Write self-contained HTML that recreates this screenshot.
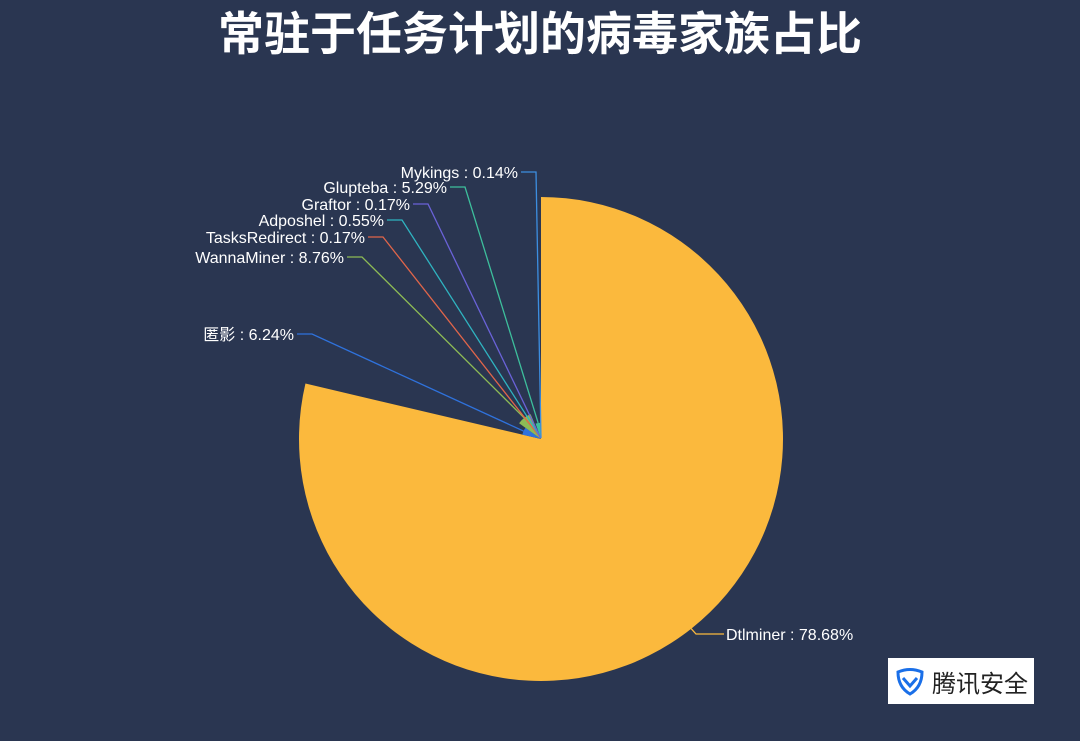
<!DOCTYPE html>
<html><head><meta charset="utf-8">
<style>
html,body{margin:0;padding:0;background:#2a3651;width:1080px;height:741px;overflow:hidden;font-family:"Liberation Sans","Noto Sans CJK SC",sans-serif}
#title{position:absolute;left:0;top:-2px;width:1080px;text-align:center;color:#fff;font-size:46px;font-weight:bold;font-family:"Liberation Sans","Noto Sans CJK SC",sans-serif}
#logo{position:absolute;left:888px;top:658px;width:146px;height:46px;background:#fff;display:flex;align-items:center}
#logo span{font-size:24px;color:#222;margin-left:6px;font-family:"Noto Sans CJK SC",sans-serif}
</style></head><body>
<div id="title">常驻于任务计划的病毒家族占比</div>
<svg id="chart" width="1080" height="741" style="position:absolute;left:0;top:0"></svg>
<div id="logo">
<svg width="32" height="32" viewBox="0 0 32 32" style="margin-left:6px"><path d="M4 7 Q16 2 28 7 Q28 22 16 29 Q4 22 4 7Z" fill="none" stroke="#1a6fe8" stroke-width="3"/><path d="M9 13 L16 21 L23 13" fill="none" stroke="#1a6fe8" stroke-width="3"/></svg>
<span>腾讯安全</span></div>
<script>
const names=["Dtlminer","匿影","WannaMiner","TasksRedirect","Adposhel","Graftor","Glupteba","Mykings"];
const values=[78.68,6.24,8.76,0.17,0.55,0.17,5.29,0.14];
const colors=["#fbb93d","#2f72dc","#8dbb55","#e0654a","#2fb3c0","#6a62d8","#3dbf9c","#3c8ee0"];
const labelY=[634,334,257,237,220,204,187,172];
const labelX=[726,294,344,365,384,410,447,518];
const cx=541,cy=439,R=242;
const svg=document.getElementById('chart');
const NS='http://www.w3.org/2000/svg';
const total=values.reduce((a,b)=>a+b,0);
const maxV=Math.max(...values);
function rOf(v){return R*v/maxV;}
function pt(a,r){return [cx+r*Math.sin(a),cy-r*Math.cos(a)];}
let a0=0;
const mids=[];
values.forEach((v,i)=>{
  const a1=a0+v/total*2*Math.PI, r=Math.max(rOf(v),1);
  const p0=pt(a0,r),p1=pt(a1,r);
  const large=(a1-a0)>Math.PI?1:0;
  const p=document.createElementNS(NS,'path');
  p.setAttribute('d',`M${cx},${cy} L${p0[0]},${p0[1]} A${r},${r} 0 ${large} 1 ${p1[0]},${p1[1]} Z`);
  p.setAttribute('fill',colors[i]);
  
  
  svg.appendChild(p);
  mids.push([(a0+a1)/2,r]);
  a0=a1;
});
values.forEach((v,i)=>{
  const [am,r]=mids[i];
  const s=pt(am,r);
  const right=i===0;
  const ex=right?labelX[i]-30:labelX[i]+18;
  const tx=right?labelX[i]-2:labelX[i]+3;
  const l=document.createElementNS(NS,'polyline');
  l.setAttribute('points',`${s[0]},${s[1]} ${ex},${labelY[i]} ${tx},${labelY[i]}`);
  l.setAttribute('fill','none');l.setAttribute('stroke',colors[i]);l.setAttribute('stroke-width','1.3');
  
  
  svg.appendChild(l);
  const t=document.createElementNS(NS,'text');
  t.setAttribute('x',labelX[i]);t.setAttribute('y',labelY[i]+6);
  t.setAttribute('fill','#fff');t.setAttribute('font-size','16');
  t.setAttribute('text-anchor',right?'start':'end');
  t.textContent=names[i]+' : '+v.toFixed(2)+'%';
  
  
  svg.appendChild(t);
});
</script>
</body></html>
